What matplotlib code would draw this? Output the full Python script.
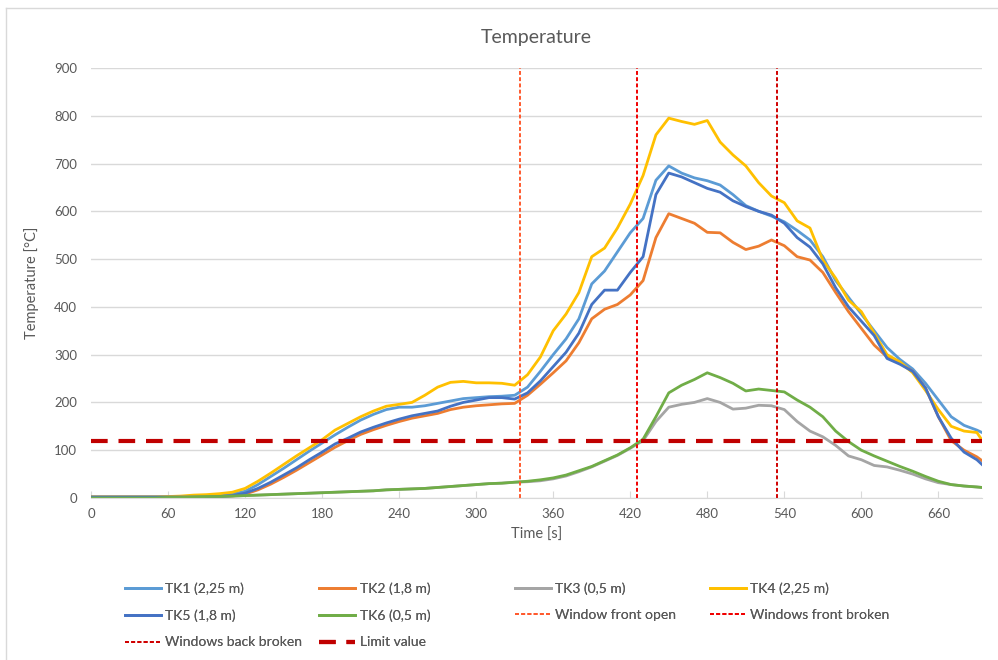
import matplotlib.pyplot as plt
from matplotlib.lines import Line2D

# time [s]
time_s = [0, 10, 20, 30, 40, 50, 60, 70, 80, 90,
          100, 110, 120, 130, 140, 150, 160, 170, 180, 190,
          200, 210, 220, 230, 240, 250, 260, 270, 280, 290,
          300, 310, 320, 330, 340, 350, 360, 370, 380, 390,
          400, 410, 420, 430, 440, 450, 460, 470, 480, 490,
          500, 510, 520, 530, 540, 550, 560, 570, 580, 590,
          600, 610, 620, 630, 640, 650, 660, 670, 680, 690, 694]

# temperatures [°C]
tk1 = [2, 2, 2, 2, 2, 2, 2, 2, 3, 3,
       5, 8, 14, 28, 45, 62, 80, 98, 115, 132,
       148, 163, 175, 185, 190, 190, 193, 198, 203, 208,
       210, 212, 213, 215, 232, 265, 300, 333, 375, 448,
       475, 515, 555, 585, 665, 695, 680, 670, 664, 655,
       635, 612, 600, 590, 578, 560, 540, 505, 455, 420,
       385, 350, 315, 290, 270, 240, 205, 170, 152, 142, 137]
tk2 = [2, 2, 2, 2, 2, 2, 2, 2, 2, 2,
       3, 4, 8, 17, 29, 43, 58, 74, 90, 106,
       120, 133, 143, 152, 160, 167, 172, 177, 185, 190,
       193, 195, 197, 198, 215, 238, 262, 287, 325, 375,
       395, 405, 425, 455, 545, 595, 585, 575, 556, 555,
       535, 520, 527, 540, 528, 505, 498, 472, 430, 390,
       355, 320, 295, 282, 265, 230, 170, 120, 100, 86, 78]
tk3 = [0, 0, 0, 0, 0, 0, 1, 1, 2, 3,
       3, 4, 5, 6, 7, 8, 9, 10, 11, 12,
       13, 14, 15, 17, 18, 19, 20, 22, 24, 26,
       28, 30, 31, 33, 34, 36, 40, 46, 55, 65,
       77, 89, 104, 120, 160, 190, 196, 200, 208, 200,
       186, 188, 194, 193, 185, 160, 140, 128, 110, 88,
       80, 68, 65, 58, 50, 40, 32, 28, 25, 23, 22]
tk4 = [2, 2, 2, 2, 2, 2, 3, 4, 6, 7,
       9, 12, 20, 35, 52, 70, 88, 105, 122, 142,
       156, 170, 182, 192, 196, 200, 215, 232, 242, 244,
       241, 241, 240, 236, 258, 295, 350, 385, 430, 505,
       523, 565, 615, 675, 760, 795, 788, 782, 790, 745,
       718, 695, 660, 632, 618, 580, 565, 498, 460, 414,
       390, 345, 300, 285, 262, 225, 185, 150, 140, 137, 121]
tk5 = [2, 2, 2, 2, 2, 2, 2, 2, 2, 2,
       3, 5, 10, 20, 33, 48, 63, 80, 96, 113,
       125, 138, 148, 157, 165, 172, 177, 182, 192, 200,
       205, 210, 210, 207, 220, 245, 275, 305, 345, 405,
       435, 435, 472, 505, 635, 680, 672, 660, 648, 640,
       622, 610, 600, 592, 575, 545, 525, 490, 440, 400,
       370, 340, 292, 280, 265, 230, 170, 125, 96, 80, 70]
tk6 = [0, 0, 0, 0, 0, 0, 1, 1, 2, 3,
       3, 4, 5, 6, 7, 8, 9, 10, 11, 12,
       13, 14, 15, 17, 18, 19, 20, 22, 24, 26,
       28, 30, 31, 33, 35, 38, 42, 48, 57, 66,
       78, 90, 105, 123, 170, 220, 236, 248, 262, 252,
       240, 224, 228, 225, 222, 205, 190, 170, 140, 118,
       100, 88, 77, 66, 56, 45, 35, 28, 25, 23, 22]

series_names = ["TK1 (2,25 m)", "TK2 (1,8 m)", "TK3 (0,5 m)", "TK4 (2,25 m)",
                "TK5 (1,8 m)", "TK6 (0,5 m)"]
series_colors = ["#5B9BD5", "#ED7D31", "#A5A5A5", "#FFC000", "#4472C4", "#70AD47"]

# events [s] and limit [°C]
window_front_open = 334
windows_front_broken = 425
windows_back_broken = 534
limit_value = 120

plt.rcParams['font.family'] = ['Lato', 'DejaVu Sans']
text_col = "#595959"
grid_col = "#D9D9D9"

fig = plt.figure(figsize=(9.98, 6.6), dpi=100)
ax = fig.add_axes([0.0912, 0.2455, 0.8928, 0.6515])

handles = {}
for name, col, vals in zip(series_names, series_colors, [tk1, tk2, tk3, tk4, tk5, tk6]):
    handles[name], = ax.plot(time_s, vals, color=col, lw=2, label=name)

handles["Window front open"] = ax.axvline(window_front_open, color="#FF5A2E", lw=1.4,
                                          dashes=(2, 1.2), label="Window front open")
handles["Windows front broken"] = ax.axvline(windows_front_broken, color="#F00000", lw=1.4,
                                             dashes=(2, 1.2), label="Windows front broken")
handles["Windows back broken"] = ax.axvline(windows_back_broken, color="#D00000", lw=1.4,
                                            dashes=(2, 1.2), label="Windows back broken")
handles["Limit value"] = ax.axhline(limit_value, color="#C00000", lw=3,
                                    dashes=(4, 2.6), label="Limit value")

ax.set_xlim(0, 694)
ax.set_ylim(0, 900)
ax.set_xticks(range(0, 661, 60))
ax.set_yticks(range(0, 901, 100))
ax.grid(axis="y", color=grid_col, lw=1)
ax.set_axisbelow(True)
for s in ["top", "right", "left"]:
    ax.spines[s].set_visible(False)
ax.spines["bottom"].set_color(grid_col)
ax.tick_params(axis="x", direction="in", length=5, color=grid_col, labelsize=9.5,
               labelcolor=text_col, pad=7)
ax.tick_params(axis="y", length=0, labelsize=9.5, labelcolor=text_col, pad=10)

ax.set_title("Temperature", fontsize=14, color=text_col, pad=18)
ax.set_xlabel("Time [s]", fontsize=10.5, color=text_col, labelpad=6)
ax.set_ylabel("Temperature [°C]", fontsize=10.5, color=text_col, labelpad=11)

# legend in four equal columns like Excel
columns = [["TK1 (2,25 m)", "TK5 (1,8 m)", "Windows back broken"],
           ["TK2 (1,8 m)", "TK6 (0,5 m)", "Limit value"],
           ["TK3 (0,5 m)", "Window front open"],
           ["TK4 (2,25 m)", "Windows front broken"]]
col_x = [0.125, 0.320, 0.516, 0.711]
for cx, names in zip(col_x, columns):
    leg = fig.legend([handles[n] for n in names], names, loc="upper left",
                     bbox_to_anchor=(cx, 0.118), frameon=False, fontsize=10,
                     handlelength=2.6, handletextpad=0.3, labelspacing=1.05,
                     borderaxespad=0, borderpad=0)
    for t in leg.get_texts():
        t.set_color(text_col)
    fig.add_artist(leg)

# chart border (left and top edge visible)
fig.add_artist(Line2D([0.006, 0.006], [0.0, 0.988], color=grid_col, lw=1, transform=fig.transFigure))
fig.add_artist(Line2D([0.006, 1.0], [0.988, 0.988], color=grid_col, lw=1, transform=fig.transFigure))

fig.savefig("out.png", dpi=100)
